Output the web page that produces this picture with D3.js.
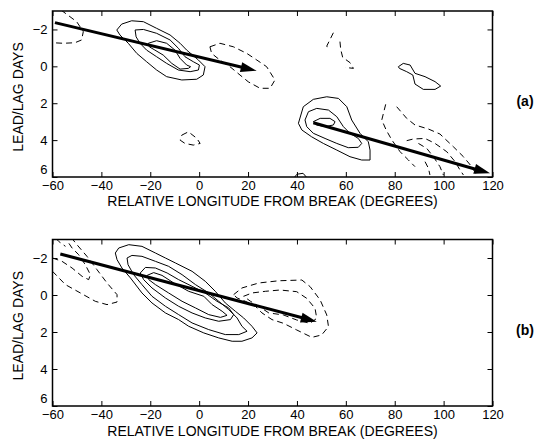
<!DOCTYPE html>
<html>
<head>
<meta charset="utf-8">
<script src="https://cdn.jsdelivr.net/npm/d3@7"></script>
<style>
  body { margin: 0; background: #fff; }
  text { font-family: "Liberation Sans", Arial, Helvetica, sans-serif; fill: #000; }
</style>
</head>
<body>
<div id="viz-container"></div>
<script>
// axis ticks (same for both panels)
const xTicks = [-60, -40, -20, 0, 20, 40, 60, 80, 100, 120];
const yTicks = [-2, 0, 2, 4, 6];
const xDomain = [-60, 120];
const yDomain = [-3, 6];   // lead/lag days, reversed (negative at top)

// ---- panel (a) contours, [longitude, day] ----
const aSolidOuter = [[-33.7,-1.97],[-31.7,-2.29],[-27.6,-2.47],[-22.8,-2.42],[-17.4,-2.06],[-11.9,-1.7],[-7.8,-1.25],[-5.1,-0.88],[-0.3,-0.34],[2.4,0.02],[1.7,0.47],[-1,0.7],[-7.1,0.74],[-13.3,0.56],[-17.4,0.2],[-21.5,-0.25],[-25.5,-0.7],[-29,-1.25],[-32.4,-1.7]];
const aSolidMid = [[-26.2,-1.97],[-22.8,-2.0],[-17.4,-1.79],[-11.9,-1.43],[-8.5,-0.98],[-5.8,-0.52],[-2.4,-0.25],[0.1,-0.07],[-0.3,0.2],[-3.7,0.29],[-8.5,0.2],[-13.3,-0.16],[-17.4,-0.52],[-21.5,-0.88],[-24.2,-1.25],[-25.8,-1.6]];
const aSolidInner = [[-20.8,-1.25],[-17.4,-1.39],[-13.3,-1.25],[-9.9,-0.88],[-7.8,-0.43],[-5.1,-0.07],[-3.5,0.02],[-4.4,0.11],[-7.8,0.15],[-11.2,-0.16],[-14.7,-0.61],[-18.1,-0.88],[-20.4,-1.06]];
const aSolidBlob = [[81.5,0.02],[83.5,-0.16],[86.3,-0.07],[88.3,0.38],[92.4,0.56],[96.5,0.83],[98.8,1.07],[96.5,1.25],[91.7,1.25],[88.3,0.96],[87.4,0.47],[84.9,0.29],[81.9,0.11]];
const aSolid2Outer = [[40.6,3.09],[42.6,2.19],[46.7,1.79],[52.2,1.65],[57.0,1.74],[60.4,2.19],[62.4,2.91],[65.8,3.63],[69.2,4.09],[69.9,4.54],[69.9,5.08],[66.5,5.08],[61.7,4.9],[56.3,4.54],[50.8,4.18],[46.0,3.82],[42.0,3.45]];
const aSolid2Mid = [[43.3,2.91],[44.7,2.46],[48.1,2.28],[52.9,2.37],[56.3,2.73],[59.0,3.27],[61.7,3.63],[65.1,3.91],[66.5,4.18],[65.1,4.39],[61.0,4.41],[56.3,4.18],[51.5,3.91],[46.7,3.63],[44.0,3.27]];
const aSolid2Inner = [[46.7,3.0],[49.5,2.82],[53.5,2.82],[55.6,3.0],[54.9,3.18],[51.5,3.27],[48.1,3.18]];
const aSolidEdge = [[38.5,6.1],[40,5.85],[42.5,5.8],[44.5,6.1]];

const aDashRing = [[4.4,-1.06],[8.5,-1.25],[14,-1.06],[19.5,-0.7],[23.6,-0.34],[27.6,0.02],[31,0.74],[29,1.19],[24.9,1.19],[20.1,0.84],[16.7,0.47],[12.6,0.02],[8.5,-0.34],[5.1,-0.7]];
const aDashSmall = [[-7.1,3.73],[-4.4,3.55],[-1,3.9],[0.4,4.18],[-2.4,4.27],[-5.8,4.18],[-7.8,4.0]];
const aDashCorner = [[-56.5,-3.05],[-50.1,-2.42],[-47.4,-1.88],[-48.1,-1.43],[-50.8,-1.28],[-55.6,-1.25],[-60,-1.28]];
const aDashTopA = [[54.9,-1.82],[52.2,-1.1],[52.9,-0.88]];
const aDashTopB = [[57.6,-1.34],[57.9,-0.92],[58.7,-0.49],[61.7,-0.2],[63.1,0.11],[59.7,0.06]];
const aDashLow1 = [[76.3,2.06],[74.7,2.91],[76.5,3.45],[78.8,3.99],[82.2,4.63],[85.6,5.08],[88.3,5.44]];
const aDashLow2 = [[80.8,2.19],[84.9,2.82],[88.3,3.18],[93.8,3.4],[98.5,3.67],[104.0,4.36],[108.1,4.9],[111.5,5.44],[113.5,5.89]];
const aDashLow3 = [[84.9,4.03],[87.6,3.94],[92.4,3.91],[96.5,4.18],[101.3,4.63],[104.7,5.17],[106.7,5.62],[108.1,5.89]];
const aDashLow4 = [[89.7,4.18],[93.1,4.45],[95.8,4.9],[98.5,5.44],[99.9,5.89]];
const aDashLow5 = [[92.4,5.17],[93.8,5.53],[94.4,5.89]];

const aArrow1 = [[-59,-2.37],[23.5,0.24]];
const aArrow2 = [[46.7,3.06],[119,5.8]];

// ---- panel (b) contours ----
const bSolid1 = [[-34.3,-2.27],[-32.9,-2.54],[-28.8,-2.72],[-23.4,-2.63],[-17.9,-2.27],[-13.8,-2.0],[-9.7,-1.73],[-2.9,-1.28],[2.5,-0.74],[6.6,-0.2],[10.7,0.43],[14.8,0.88],[18.2,1.24],[21.6,1.69],[23.7,2.05],[21.6,2.32],[17.5,2.5],[13.5,2.5],[8.0,2.32],[1.9,2.05],[-4.3,1.69],[-8.4,1.33],[-13.8,0.97],[-19.3,0.43],[-23.4,-0.11],[-28.1,-0.92],[-31.6,-1.46],[-33.6,-1.91]];
const bSolid2 = [[-29.5,-2.0],[-27.5,-2.14],[-23.4,-2.09],[-17.9,-1.82],[-12.5,-1.55],[-7.0,-1.1],[-1.5,-0.56],[3.9,-0.11],[8.0,0.34],[12.1,0.79],[15.5,1.24],[17.5,1.69],[19.6,1.96],[16.2,2.14],[10.7,2.14],[3.9,1.87],[-2.9,1.51],[-8.4,1.06],[-13.8,0.61],[-19.3,0.07],[-23.4,-0.56],[-26.8,-1.1],[-29.1,-1.64]];
const bSolid3 = [[-24.1,-1.19],[-22.0,-1.49],[-17.9,-1.46],[-13.1,-1.19],[-8.4,-0.83],[-2.9,-0.47],[2.5,-0.11],[7.3,0.34],[12.1,0.7],[14.1,1.06],[12.8,1.33],[8.0,1.42],[2.5,1.24],[-2.9,0.97],[-8.4,0.61],[-13.8,0.16],[-19.3,-0.38],[-22.7,-0.83]];
const bSolid4 = [[-21.3,-1.06],[-18.6,-1.21],[-15.2,-1.06],[-10.4,-0.65],[-4.3,-0.2],[1.9,0.07],[5.3,0.52],[9.4,0.88],[11.4,1.1],[8.7,1.21],[3.9,1.06],[-1.5,0.7],[-7.0,0.34],[-12.5,-0.11],[-17.9,-0.56],[-20.6,-0.83]];

const bDashLeft1 = [[-60,-1.28],[-54.7,-0.56],[-48.6,-0.11],[-42.5,0.34],[-37.7,0.52],[-33.6,0.38],[-33.6,-0.02],[-37.7,-0.65],[-41.8,-1.37],[-45.9,-2.09],[-50.0,-2.72],[-52.0,-3.05]];
const bDashLeft2 = [[-60,-2.0],[-56.1,-1.82],[-52.0,-1.46],[-47.9,-1.01],[-45.2,-0.83],[-44.5,-1.1],[-46.6,-1.64],[-49.3,-2.18],[-52.0,-2.54],[-54.6,-3.05]];
const bDashLeft3 = [[-58.5,-3.05],[-57.5,-2.9],[-54.7,-2.63]];
const bDashRight1 = [[14.1,-0.02],[17.5,-0.38],[24.4,-0.65],[32.6,-0.77],[42.0,-0.81],[45.4,-0.45],[49.5,0.27],[52.2,1.08],[52.9,1.71],[50.1,2.16],[46.1,2.29],[39.9,1.89],[34.5,1.53],[29.8,1.33],[25.7,0.97],[23.0,0.61],[18.9,0.34],[15.5,0.16]];
const bDashRight2 = [[18.2,0.07],[21.6,-0.11],[27.1,-0.2],[33.1,-0.27],[39.9,-0.18],[44.0,0.18],[47.4,0.72],[48.1,1.26],[45.4,1.53],[39.9,1.35],[34.5,1.08],[28.5,0.97],[24.4,0.61],[21.0,0.34]];

const bArrow = [[-56.8,-2.22],[48.1,1.44]];

const panels = [
  { label: "(a)", top: 11, bottom: 177, titleGap: 29,
    solidClosed: [aSolidOuter, aSolidMid, aSolidInner, aSolidBlob, aSolid2Outer, aSolid2Mid, aSolid2Inner],
    solidOpen: [aSolidEdge],
    dashClosed: [aDashRing, aDashSmall],
    dashOpen: [aDashCorner, aDashTopA, aDashTopB, aDashLow1, aDashLow2, aDashLow3, aDashLow4, aDashLow5],
    arrows: [aArrow1, aArrow2] },
  { label: "(b)", top: 239.5, bottom: 406, titleGap: 30,
    solidClosed: [bSolid1, bSolid2, bSolid3, bSolid4],
    solidOpen: [],
    dashClosed: [bDashRight1, bDashRight2],
    dashOpen: [bDashLeft1, bDashLeft2, bDashLeft3],
    arrows: [bArrow] }
];

const width = 545, height = 444;
const left = 52.5, right = 492.5;
const tickFont = 13, titleFont = 14;

const svg = d3.select("#viz-container").append("svg")
  .attr("width", width).attr("height", height)
  .attr("viewBox", [0, 0, width, height]);

const x = d3.scaleLinear().domain(xDomain).range([left, right]);

panels.forEach((p, i) => {
  const y = d3.scaleLinear().domain(yDomain).range([p.top, p.bottom]);
  const g = svg.append("g");

  const clipId = "clip" + i;
  svg.append("clipPath").attr("id", clipId)
    .append("rect")
    .attr("x", left).attr("y", p.top)
    .attr("width", right - left).attr("height", p.bottom - p.top);

  const plot = g.append("g").attr("clip-path", "url(#" + clipId + ")");
  const lineClosed = d3.line().x(d => x(d[0])).y(d => y(d[1])).curve(d3.curveLinearClosed);
  const lineOpen = d3.line().x(d => x(d[0])).y(d => y(d[1]));

  const draw = (data, gen, dashed) => plot.append("g")
    .selectAll("path").data(data).join("path")
    .attr("d", gen)
    .attr("fill", "none")
    .attr("stroke", "#000")
    .attr("stroke-width", 1)
    .attr("stroke-dasharray", dashed ? "6,4" : null);

  draw(p.solidClosed, lineClosed, false);
  draw(p.solidOpen, lineOpen, false);
  draw(p.dashClosed, lineClosed, true);
  draw(p.dashOpen, lineOpen, true);

  // arrows: thick shaft plus filled head
  const headLen = 16, headHalf = 5;
  p.arrows.forEach(a => {
    const x0 = x(a[0][0]), y0 = y(a[0][1]);
    const x1 = x(a[1][0]), y1 = y(a[1][1]);
    const ang = Math.atan2(y1 - y0, x1 - x0);
    const bx = x1 - headLen * Math.cos(ang), by = y1 - headLen * Math.sin(ang);
    g.append("line")
      .attr("x1", x0).attr("y1", y0)
      .attr("x2", bx + 2 * Math.cos(ang)).attr("y2", by + 2 * Math.sin(ang))
      .attr("stroke", "#000").attr("stroke-width", 3);
    g.append("polygon")
      .attr("points", [
        [x1, y1],
        [bx - headHalf * Math.sin(ang), by + headHalf * Math.cos(ang)],
        [bx + headHalf * Math.sin(ang), by - headHalf * Math.cos(ang)]
      ].join(" "))
      .attr("fill", "#000");
  });

  // axes: ticks inward on all four sides
  const fmt = d3.format("");
  g.append("g").attr("transform", `translate(0,${p.bottom})`)
    .call(d3.axisBottom(x).tickValues(xTicks).tickSizeInner(-5).tickSizeOuter(0).tickPadding(4).tickFormat(fmt))
    .call(s => s.select(".domain").remove())
    .call(s => s.selectAll("text").attr("font-size", tickFont).attr("font-family", null));
  g.append("g").attr("transform", `translate(0,${p.top})`)
    .call(d3.axisTop(x).tickValues(xTicks).tickSizeInner(-5).tickSizeOuter(0).tickFormat(""))
    .call(s => s.select(".domain").remove());
  g.append("g").attr("transform", `translate(${left},0)`)
    .call(d3.axisLeft(y).tickValues(yTicks).tickSizeInner(-5).tickSizeOuter(0).tickPadding(5).tickFormat(fmt))
    .call(s => s.select(".domain").remove())
    .call(s => s.selectAll("text").attr("font-size", tickFont).attr("font-family", null)
      .attr("dy", d => d === 6 ? "-0.25em" : "0.32em"));
  g.append("g").attr("transform", `translate(${right},0)`)
    .call(d3.axisRight(y).tickValues(yTicks).tickSizeInner(-5).tickSizeOuter(0).tickFormat(""))
    .call(s => s.select(".domain").remove());

  g.selectAll(".tick line").attr("stroke", "#000");

  g.append("rect")
    .attr("x", left).attr("y", p.top)
    .attr("width", right - left).attr("height", p.bottom - p.top)
    .attr("fill", "none").attr("stroke", "#000").attr("stroke-width", 1.5);

  // axis titles
  g.append("text")
    .attr("x", (left + right) / 2).attr("y", p.bottom + p.titleGap)
    .attr("text-anchor", "middle").attr("font-size", titleFont)
    .text("RELATIVE LONGITUDE FROM BREAK (DEGREES)");
  g.append("text")
    .attr("transform", `translate(23,${(p.top + p.bottom) / 2 + 3}) rotate(-90)`)
    .attr("text-anchor", "middle").attr("font-size", titleFont)
    .text("LEAD/LAG DAYS");
  g.append("text")
    .attr("x", 525).attr("y", y(1.9) + 5)
    .attr("text-anchor", "middle").attr("font-size", titleFont).attr("font-weight", "bold")
    .text(p.label);
});
</script>
</body>
</html>
